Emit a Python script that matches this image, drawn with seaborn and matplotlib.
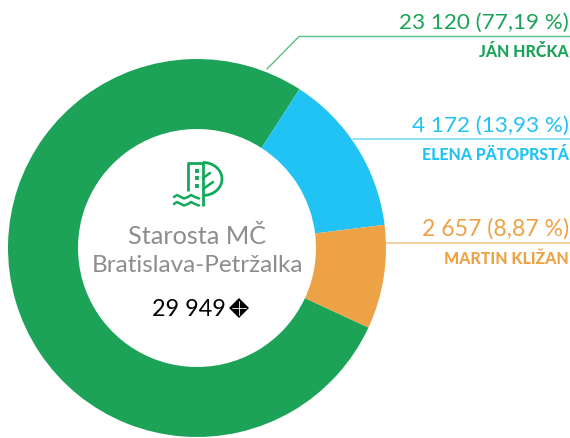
import matplotlib
matplotlib.use("Agg")
import matplotlib.pyplot as plt
from matplotlib.patches import Polygon, Arc
import seaborn as sns

candidates = ["JÁN HRČKA", "ELENA PÄTOPRSTÁ", "MARTIN KLIŽAN"]
votes = [23120, 4172, 2657]
percents = ["77,19", "13,93", "8,87"]
total_label = "29 949"
title_lines = "Starosta MČ\nBratislava-Petržalka"
colors = ["#1ca358", "#20c3f3", "#eea246"]
line_colors = ["#5cbd85", "#7adaf7", "#f5c88f"]

sns.set_theme(style="white")
plt.rcParams["font.family"] = ["Lato", "DejaVu Sans"]

W, H = 570, 439


def py(y):
    # pixel y from the top of the picture to axes y
    return H - y


fig = plt.figure(figsize=(5.7, 4.39), dpi=100)
ax = fig.add_axes([0, 0, 1, 1])

ax.pie(votes, colors=sns.color_palette(colors), center=(197, py(249)), radius=189,
       startangle=335.1, counterclock=False,
       wedgeprops=dict(width=70, linewidth=0))
ax.set_xlim(0, W)
ax.set_ylim(0, H)
ax.set_aspect("equal")
ax.axis("off")

# leader lines
ax.plot([267, 299, 570], [py(70), py(37.5), py(37.5)], color=line_colors[0], lw=1)
ax.plot([353, 570], [py(139.5), py(139.5)], color=line_colors[1], lw=1.2)
ax.plot([386, 570], [py(243.5), py(243.5)], color=line_colors[2], lw=1.2)

# labels
value_y = [29, 132, 236]
name_y = [57, 160, 264]
value_size = [16.2, 16.2, 16.6]
for i in range(3):
    vote_str = f"{votes[i]:,}".replace(",", " ")
    ax.text(569, py(value_y[i]), f"{vote_str} ({percents[i]} %)", color=colors[i],
            ha="right", va="baseline", fontsize=value_size[i])
    ax.text(569, py(name_y[i]), candidates[i], color=colors[i], ha="right",
            va="baseline", fontsize=11.4, fontweight="black")

# centre text
ax.text(197, py(236), title_lines.split("\n")[0], color="#8f8d8a", ha="center",
        va="center", fontsize=18.2)
ax.text(197, py(265), title_lines.split("\n")[1], color="#8f8d8a", ha="center",
        va="center", fontsize=17.5)
ax.text(152, py(316), total_label, color="black", ha="left", va="baseline", fontsize=16.8)

# small diamond after the total
ax.add_patch(Polygon([(239, py(299)), (249, py(309)), (239, py(319)), (229, py(309))],
                     closed=True, color="black", lw=0))
ax.plot([232, 246], [py(309), py(309)], color="white", lw=0.6)
ax.plot([239, 239], [py(302), py(316)], color="white", lw=0.6)

# logo in the middle of the ring
g = "#12a95a"
ax.plot([188, 188, 203, 203], [py(192), py(164), py(164), py(207)], color=g, lw=2,
        solid_capstyle="butt")
ax.add_patch(Arc((203, py(180)), 38, 33, theta1=-90, theta2=90, color=g, lw=2))
ax.plot([203, 210], [py(179), py(174)], color=g, lw=1.8)
ax.plot([203, 213], [py(190), py(183)], color=g, lw=1.8)
for y in [172, 179, 187]:
    ax.plot([195, 199], [py(y), py(y)], color=g, lw=2.8, solid_capstyle="butt")
for y in [198, 205]:
    xs = [174, 177, 181, 184, 188, 191, 195, 199]
    ax.plot(xs, [py(y + d) for d in [0, -2, 0, 1.5, 0, -2, 0, 1.5]], color=g, lw=1.8)

fig.savefig("out.png", dpi=100)
